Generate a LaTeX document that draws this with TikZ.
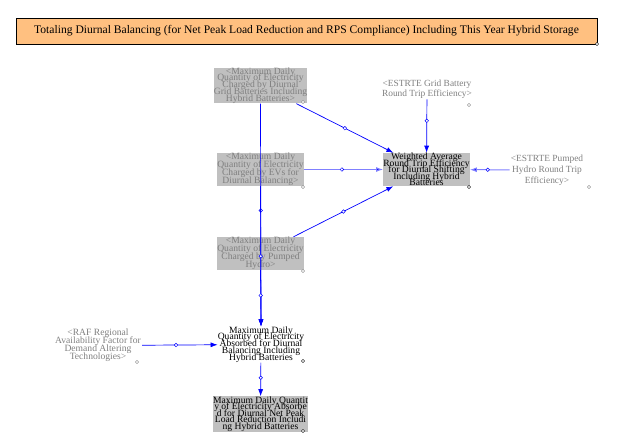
\documentclass[tikz,border=0pt]{standalone}
\usepackage{fontspec}
\setmainfont{Liberation Serif}
\usetikzlibrary{arrows.meta}
\definecolor{titlefill}{HTML}{FFC080}
\definecolor{shadowfill}{HTML}{C0C0C0}
\definecolor{shadowtext}{HTML}{7F7F7F}
\definecolor{labeltext}{HTML}{808080}
\definecolor{linkblue}{HTML}{0000FF}
\definecolor{lightblue}{HTML}{8080FF}
\newcommand{\tightfont}[2]{\fontsize{#1}{#2}\selectfont\lineskiplimit=-20pt\lineskip=0pt}
\begin{document}
\begin{tikzpicture}[x=1pt,y=-1pt,
  titlebox/.style={draw=black, line width=0.8pt, fill=titlefill, minimum width=581, minimum height=26, inner sep=0, font=\fontsize{11.6}{13}\selectfont},
  shadowbox/.style={fill=shadowfill, text=shadowtext, minimum width=84, minimum height=33, inner sep=0, align=center},
  varbox/.style={fill=shadowfill, text=black, minimum width=84, minimum height=33, inner sep=0, align=center},
  auxtext/.style={text=black, inner sep=0, align=center},
  graylabel/.style={text=labeltext, inner sep=1, align=center},
  corner/.style={circle, draw=black, fill=white, line width=0.4pt, inner sep=0, minimum size=3.2},
  graycorner/.style={circle, draw=gray, fill=white, line width=0.4pt, inner sep=0, minimum size=3.2},
  link/.style={draw=linkblue, line width=0.7pt, -{Latex[length=7,width=5]}},
  lightlink/.style={draw=lightblue, line width=1pt, -{Latex[length=7,width=5,fill=linkblue]}},
  midmark/.style={circle, draw=linkblue, fill=white, line width=0.5pt, inner sep=0, minimum size=3.6}
]
\useasboundingbox (0,0) rectangle (642,446);

% title
\node[titlebox] (title) at (306.5,31) {Totaling Diurnal Balancing (for Net Peak Load Reduction and RPS Compliance) Including This Year Hybrid Storage};
\node[corner] (titlec) at (597,44) {};

% shadow variables
\node[shadowbox, font=\tightfont{9.6}{6.8}] (box1) at (260.5,85.5) {<Maximum Daily\\Quantity of Electricity\\Charged by Diurnal\\Grid Batteries Including\\Hybrid Batteries>};
\node[shadowbox, font=\tightfont{9.6}{8}] (box2) at (260.5,169.5) {<Maximum Daily\\Quantity of Electricity\\Charged by EVs for\\Diurnal Balancing>};
\node[shadowbox, font=\tightfont{9.6}{8}] (box3) at (260.5,253.5) {<Maximum Daily\\Quantity of Electricity\\Charged by Pumped\\Hydro>};
\node[graycorner] (box1c) at (303,102) {};
\node[graycorner] (box2c) at (303,187) {};
\node[graycorner] (box3c) at (303,271) {};

% weighted average
\node[varbox, font=\tightfont{9.6}{6.6}, minimum width=83] (weighted) at (426.5,169.5) {Weighted Average\\Round Trip Efficiency\\for Diurnal Shifting\\Including Hybrid\\Batteries};
\node[corner] (weightedc) at (469,187) {};

% labels
\node[graylabel, font=\tightfont{9.4}{10}] (grid) at (427,89) {<ESTRTE Grid Battery\\Round Trip Efficiency>};
\node[graycorner] (gridc) at (469,105) {};
\node[graylabel, font=\tightfont{9.4}{11}] (pumped) at (547,170) {<ESTRTE Pumped\\Hydro Round Trip\\Efficiency>};
\node[graycorner] (pumpedc) at (589,187) {};
\node[graylabel, font=\tightfont{9.6}{8}] (raf) at (98,345.5) {<RAF Regional\\Availability Factor for\\Demand Altering\\Technologies>};
\node[graycorner] (rafc) at (137,362) {};

% absorbed
\node[auxtext, font=\tightfont{9.6}{6.8}] (absorbed) at (261,344.5) {Maximum Daily\\Quantity of Electricity\\Absorbed for Diurnal\\Balancing Including\\Hybrid Batteries};
\node[corner] (absorbedc) at (303,361) {};

% bottom
\node[varbox, font=\tightfont{9.6}{6.6}, minimum height=32] (bottom) at (260.5,414) {Maximum Daily Quantit\\y of Electricity Absorbe\\d for Diurnal Net Peak\\Load Reduction Includi\\ng Hybrid Batteries};
\node[corner] (bottomc) at (303,431) {};

% connectors
\draw[link] (box1.south) -- node[midmark, pos=0.48] {} (absorbed.north);
\draw[link] (box2.south) -- node[midmark, pos=0.5] {} (absorbed.north);
\draw[link] (box3.south) -- node[midmark, pos=0.45] {} (absorbed.north);
\draw[link] (box1) -- node[midmark, pos=0.5] {} (weighted);
\draw[lightlink] (box2) -- node[midmark, pos=0.48] {} (weighted);
\draw[link] (box3) -- node[midmark, pos=0.5] {} (weighted);
\draw[link] (grid) -- node[midmark, pos=0.4] {} (weighted);
\draw[lightlink] (pumped) -- node[midmark, pos=0.55] {} (weighted);
\draw[link] (raf) -- node[midmark, pos=0.45] {} (absorbed);
\draw[link] (absorbed) -- node[midmark, pos=0.45] {} (bottom);
\end{tikzpicture}
\end{document}
